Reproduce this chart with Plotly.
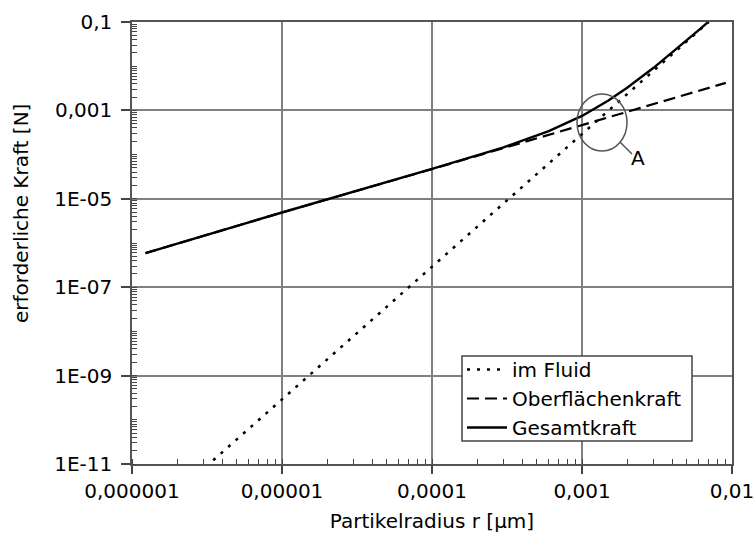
import plotly.graph_objects as go

# --- data (log-log) ---
fluid_r = [3.1e-6, 1e-5, 1e-4, 1e-3, 7.0e-3]
fluid_F = [8.6e-12, 2.9e-10, 2.9e-7, 2.9e-4, 0.1]

surface_r = [1.23e-6, 1e-5, 1e-4, 1e-3, 9.1e-3]
surface_F = [5.9e-7, 4.9e-6, 4.7e-5, 4.6e-4, 4.2e-3]

total_r = [1.23e-6, 1e-5, 1e-4, 3e-4, 6e-4, 1e-3, 1.5e-3, 2e-3, 3e-3, 4e-3, 5e-3, 6e-3, 6.95e-3]
total_F = [5.9e-7, 4.9e-6, 4.73e-5, 1.46e-4, 3.39e-4, 7.5e-4, 1.67e-3, 3.24e-3, 9.2e-3, 2.04e-2, 3.86e-2, 6.54e-2, 0.1005]

x_tickvals = [1e-6, 1e-5, 1e-4, 1e-3, 1e-2]
x_ticktext = ["0,000001", "0,00001", "0,0001", "0,001", "0,01"]
y_tickvals = [1e-1, 1e-3, 1e-5, 1e-7, 1e-9, 1e-11]
y_ticktext = ["0,1", "0,001", "1E-05", "1E-07", "1E-09", "1E-11"]

x_title = "Partikelradius r [µm]"
y_title = "erforderliche Kraft [N]"
names = ["im Fluid", "Oberflächenkraft", "Gesamtkraft"]

FONT = "DejaVu Sans, Liberation Sans, Arial, sans-serif"
FS = 20

def minor_vals(lo, hi):
    vals = []
    for e in range(lo, hi):
        for m in range(1, 10):
            vals.append(m * 10.0 ** e)
    return vals

fig = go.Figure()
fig.add_trace(go.Scatter(x=fluid_r, y=fluid_F, mode="lines", name=names[0],
                         line=dict(color="black", width=2.5, dash="3px,7px")))
fig.add_trace(go.Scatter(x=surface_r, y=surface_F, mode="lines", name=names[1],
                         line=dict(color="black", width=2.2, dash="12px,6px")))
fig.add_trace(go.Scatter(x=total_r, y=total_F, mode="lines", name=names[2],
                         line=dict(color="black", width=2.4)))

L, R, T, B = 132, 23, 22, 80
W, H = 755, 544
pw, ph = W - L - R, H - T - B

def px(xp):
    return (xp - L) / pw

def py(yp):
    return (H - B - yp) / ph

shapes = [
    # legend frame (covers the grid like the original)
    dict(type="rect", xref="paper", yref="paper", layer="above",
         x0=px(462), x1=px(692), y0=py(441), y1=py(356),
         fillcolor="white", line=dict(color="#444444", width=1.5)),
    dict(type="circle", xref="paper", yref="paper",
         x0=px(577), x1=px(627), y0=py(151), y1=py(94),
         line=dict(color="#555555", width=1.5)),
    dict(type="line", xref="paper", yref="paper",
         x0=px(620), y0=py(142), x1=px(632), y1=py(154),
         line=dict(color="#555555", width=1.5)),
]

fig.update_layout(
    width=W, height=H,
    margin=dict(l=L, r=R, t=T, b=B, autoexpand=False),
    paper_bgcolor="white", plot_bgcolor="white",
    font=dict(family=FONT, size=FS, color="black"),
    showlegend=True,
    legend=dict(x=px(462), y=py(350), xanchor="left", yanchor="top",
                bgcolor="rgba(0,0,0,0)", borderwidth=0,
                font=dict(size=FS), itemwidth=40, tracegroupgap=0),
    shapes=shapes,
    annotations=[
        dict(xref="paper", yref="paper", x=px(638), y=py(158),
             text="A", showarrow=False, font=dict(size=FS),
             xanchor="center", yanchor="middle"),
        dict(xref="paper", yref="paper", x=px(21), y=py(214),
             text=y_title, textangle=-90, showarrow=False, font=dict(size=FS),
             xanchor="center", yanchor="middle"),
    ],
)

fig.update_xaxes(
    type="log", range=[-6, -2], automargin=False,
    tickmode="array", tickvals=x_tickvals, ticktext=x_ticktext,
    ticks="outside", ticklen=8, tickwidth=1.5, tickcolor="#444444",
    showgrid=True, gridcolor="#808080", gridwidth=1.5,
    showline=True, linecolor="#555555", linewidth=1.5, mirror=True,
    minor=dict(tickmode="array", tickvals=minor_vals(-6, -2), ticks="inside",
               ticklen=5, tickwidth=1, tickcolor="#444444", showgrid=False),
    title=dict(text=x_title, font=dict(size=FS), standoff=12),
    zeroline=False,
)
fig.update_yaxes(
    type="log", range=[-11, -1], automargin=False,
    tickmode="array", tickvals=y_tickvals, ticktext=y_ticktext,
    ticks="outside", ticklen=9, tickwidth=1.5, tickcolor="#444444",
    ticklabelstandoff=5,
    showgrid=True, gridcolor="#808080", gridwidth=1.5,
    showline=True, linecolor="#555555", linewidth=1.5, mirror=True,
    minor=dict(tickmode="array", tickvals=minor_vals(-11, -1), ticks="inside",
               ticklen=5, tickwidth=1, tickcolor="#444444", showgrid=False),
    zeroline=False,
)

fig.write_html("out.html")
